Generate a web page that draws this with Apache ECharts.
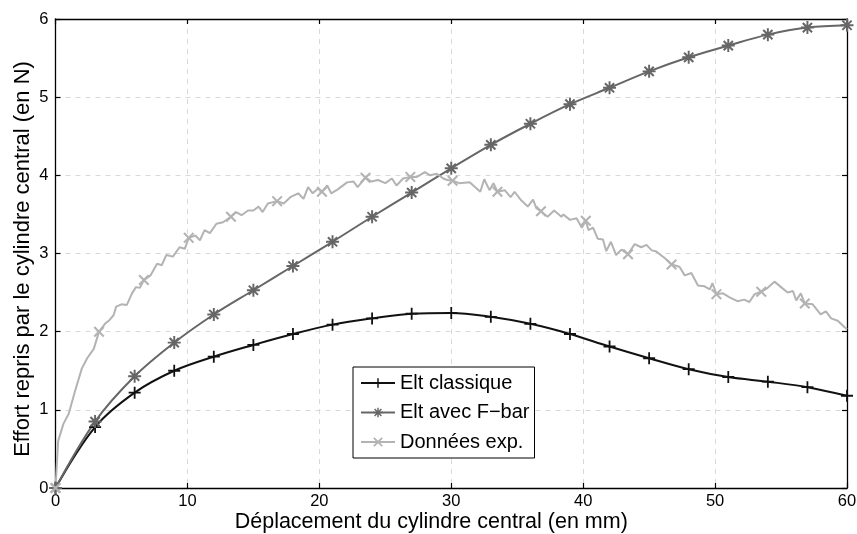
<!DOCTYPE html>
<html>
<head>
<meta charset="utf-8">
<script src="https://cdn.jsdelivr.net/npm/echarts@6/dist/echarts.min.js"></script>
<style>html,body{margin:0;padding:0;background:#fff}#c{width:857px;height:534px}</style>
</head>
<body>
<div id="c"></div>
<script>
// ---- data ----
const simX = [0,3,6,9,12,15,18,21,24,27,30,33,36,39,42,45,48,51,54,57,60];
const classiqueY = [0,0.78,1.22,1.50,1.68,1.83,1.97,2.09,2.17,2.23,2.24,2.19,2.10,1.97,1.81,1.66,1.52,1.42,1.36,1.29,1.18];
const fbarY = [0,0.85,1.43,1.86,2.22,2.53,2.84,3.15,3.47,3.78,4.09,4.39,4.66,4.91,5.12,5.33,5.51,5.66,5.80,5.89,5.92];
const expX = [0,0.2,0.6,1.0,1.5,2.0,2.4,2.9,3.3,3.75,4.1,4.4,4.6,5.0,5.4,5.8,6.1,6.4,6.7,7.2,7.7,8.05,8.4,8.9,9.4,9.8,10.1,10.6,10.95,11.3,11.7,12.2,12.7,13.3,13.7,14.1,14.6,15.0,15.4,15.7,16.1,16.8,17.3,17.8,18.4,18.8,19.15,19.5,19.9,20.2,20.6,20.9,21.4,22.1,22.6,22.9,23.5,23.95,24.45,25.0,25.5,25.85,26.35,26.9,27.4,28.0,28.4,28.9,29.4,29.7,30.1,30.6,31.4,32.2,32.5,32.9,33.2,33.5,34.05,34.5,34.8,35.3,35.8,36.2,36.45,36.8,37.3,37.8,38.35,38.5,39.0,39.5,39.9,40.2,40.4,40.75,41.1,41.5,41.75,42.1,42.5,42.9,43.4,43.9,44.4,44.8,45.2,45.5,46.2,46.7,47.3,47.7,48.2,48.7,49.2,49.6,49.8,50.1,50.6,51.1,51.7,52.2,52.6,53.0,53.5,53.9,54.5,55.0,55.5,55.9,56.15,56.5,56.8,57.4,58.0,58.4,58.8,59.3,59.8,60.0];
const expY = [0,0.6,0.82,0.95,1.25,1.53,1.66,1.78,2.0,2.10,2.15,2.21,2.32,2.35,2.34,2.49,2.57,2.56,2.66,2.72,2.87,2.85,2.98,2.96,3.08,3.06,3.20,3.23,3.17,3.30,3.26,3.38,3.40,3.47,3.53,3.49,3.55,3.55,3.60,3.53,3.64,3.67,3.64,3.72,3.77,3.70,3.85,3.77,3.83,3.79,3.87,3.77,3.82,3.91,3.92,3.85,3.97,3.92,3.94,3.90,3.96,3.87,3.96,3.98,3.98,4.04,4.00,4.02,3.96,3.94,3.93,3.90,3.91,3.79,3.95,3.81,3.90,3.79,3.81,3.72,3.79,3.68,3.60,3.69,3.58,3.54,3.47,3.55,3.47,3.50,3.43,3.45,3.33,3.42,3.30,3.33,3.19,3.18,3.03,3.15,2.98,3.05,2.99,3.12,3.08,3.11,3.04,3.03,2.94,2.86,2.83,2.72,2.75,2.59,2.58,2.54,2.62,2.48,2.49,2.44,2.39,2.41,2.38,2.48,2.51,2.55,2.64,2.57,2.50,2.52,2.40,2.49,2.36,2.35,2.22,2.26,2.17,2.14,2.06,2.03];
const expMarkX = [0,3.3,6.7,10.1,13.3,16.8,20.2,23.5,26.9,30.1,33.5,36.8,40.2,43.4,46.7,50.1,53.5,56.8];
const seriesNames = ['Elt classique','Elt avec F\u2212bar','Donn\u00e9es exp.'];
const xTitle = 'D\u00e9placement du cylindre central (en mm)';
const yTitle = 'Effort repris par le cylindre central (en N)';

// ---- symbols (filled thin bars) ----
const PLUS_P = 'M-0.15,-1H0.15V1H-0.15Z M-1,-0.15H1V0.15H-1Z';
const DIAG_P = 'M-0.6,-0.82L0.82,0.6L0.6,0.82L-0.82,-0.6Z M-0.82,0.6L0.6,-0.82L0.82,-0.6L-0.6,0.82Z';
const PLUS = 'path://' + PLUS_P;
const CROSS = 'path://' + DIAG_P;
const STAR = 'path://' + PLUS_P + ' ' + DIAG_P;

const font = 'Liberation Sans, Arial, Helvetica, sans-serif';
const chart = echarts.init(document.getElementById('c'), null, {renderer: 'canvas'});
const gridLine = {show: true, lineStyle: {color: '#d9d9d9', type: [5, 5], width: 1}};
const axLine = {show: true, onZero: false, lineStyle: {color: '#000', width: 1.3}};
const axTick = {show: true, inside: true, length: 5, lineStyle: {color: '#000', width: 1.2}};

chart.setOption({
  animation: false,
  backgroundColor: '#fff',
  grid: {left: 55.5, right: 10, top: 19, bottom: 46, containLabel: false, outerBoundsMode: 'none'},
  legend: {
    orient: 'vertical', left: 353, top: 367,
    backgroundColor: '#fff', borderColor: '#000', borderWidth: 1,
    padding: [5, 5, 5, 7], itemGap: 7.5, itemWidth: 34, itemHeight: 12,
    textStyle: {fontFamily: font, fontSize: 20, color: '#000', lineHeight: 22},
    data: seriesNames
  },
  xAxis: [{
    type: 'value', min: 0, max: 60, interval: 10,
    name: xTitle, nameLocation: 'middle', nameGap: 23, nameMoveOverlap: false,
    nameTextStyle: {fontFamily: font, fontSize: 21.5, color: '#000', padding: [0, 40, 0, 0]},
    axisLine: axLine, axisTick: axTick,
    axisLabel: {fontFamily: font, fontSize: 16.5, color: '#000', margin: 5},
    splitLine: gridLine
  }, {
    type: 'value', min: 0, max: 60, interval: 10, position: 'top',
    axisLine: axLine, axisTick: axTick,
    axisLabel: {show: false}, splitLine: {show: false}
  }],
  yAxis: [{
    type: 'value', min: 0, max: 6, interval: 1,
    name: yTitle, nameLocation: 'middle', nameGap: 22, nameMoveOverlap: false,
    nameTextStyle: {fontFamily: font, fontSize: 22, color: '#000', padding: [0, 11, 0, 0]},
    axisLine: axLine, axisTick: axTick,
    axisLabel: {fontFamily: font, fontSize: 16.5, color: '#000', margin: 7},
    splitLine: gridLine
  }, {
    type: 'value', min: 0, max: 6, interval: 1, position: 'right',
    axisLine: axLine, axisTick: axTick,
    axisLabel: {show: false}, splitLine: {show: false}
  }],
  series: [{
    name: seriesNames[0], type: 'line', smooth: 0.35, clip: false,
    data: simX.map((x, i) => [x, classiqueY[i]]),
    symbol: PLUS, symbolSize: 12,
    lineStyle: {color: '#111', width: 2},
    itemStyle: {color: '#111'}
  }, {
    name: seriesNames[1], type: 'line', smooth: 0.35, clip: false,
    data: simX.map((x, i) => [x, fbarY[i]]),
    symbol: STAR, symbolSize: 13,
    lineStyle: {color: '#666', width: 2},
    itemStyle: {color: '#666'}
  }, {
    name: seriesNames[2], type: 'line', smooth: false, clip: false,
    data: expX.map((x, i) => expMarkX.includes(x)
      ? {value: [x, expY[i]]}
      : {value: [x, expY[i]], symbol: 'none'}),
    symbol: CROSS, symbolSize: 11,
    lineStyle: {color: '#b3b3b3', width: 2},
    itemStyle: {color: '#b3b3b3'}
  }]
});
</script>
</body>
</html>
